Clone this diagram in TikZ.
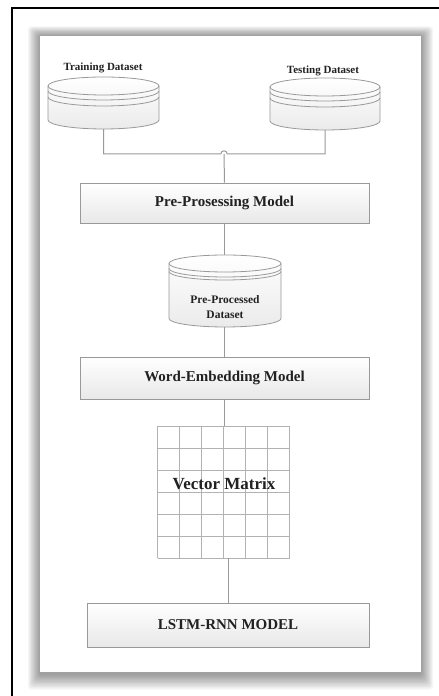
\documentclass[tikz,border=0pt]{standalone}
\usepackage{fontspec}
\setmainfont{Liberation Serif}
\usetikzlibrary{calc}
\begin{document}
\begin{tikzpicture}[x=1pt,y=1pt,
  conn/.style={draw=black!40,line width=1pt},
  procbox/.style={draw=black!40,line width=0.9pt,top color=white,bottom color=black!9,
    inner sep=0pt,text=black!87,font=\bfseries\fontsize{15}{17}\selectfont},
  cylfill/.style={draw=black!40,line width=0.8pt,top color=white,bottom color=black!8},
  cylline/.style={draw=black!40,line width=0.8pt},
  lbl/.style={text=black!87,font=\bfseries\fontsize{11}{13}\selectfont,inner sep=0pt},
  gridline/.style={draw=black!30,line width=0.8pt}
]
\useasboundingbox (0,0) rectangle (439,696);
\fill[white] (0,0) rectangle (439,696);
% outer black frame lines
\draw[black,line width=1.3pt] (12,0) -- (12,688) -- (439,688);
% panel shadow
\foreach \i in {1,...,12}{
  \fill[black,opacity=0.035,rounded corners=3pt] (40-\i,22-1.3*\i) rectangle (421+\i,660+0.8*\i);
}
\fill[white] (40,24) rectangle (421,660);

% cylinder macro: #1 name, #2 cx, #3 top Y, #4 bottom Y, #5 rx, #6 ry, #7 extra1 shift, #8 extra2 shift
\newcommand{\dbcyl}[8]{%
  \pgfmathsetmacro{\tc}{#3-#6}%
  \pgfmathsetmacro{\bc}{#4+#6}%
  \path[cylfill] (#2-#5,\tc) -- (#2-#5,\bc) arc[start angle=180,end angle=360,x radius=#5,y radius=#6]
     -- (#2+#5,\tc) arc[start angle=0,end angle=180,x radius=#5,y radius=#6] -- cycle;
  \draw[cylline] (#2-#5,\tc) arc[start angle=180,end angle=360,x radius=#5,y radius=#6];
  \draw[cylline] (#2-#5,\tc-#7) arc[start angle=180,end angle=360,x radius=#5,y radius=#6];
  \draw[cylline] (#2-#5,\tc-#8) arc[start angle=180,end angle=360,x radius=#5,y radius=#6];
  \node[inner sep=0pt,minimum width=2*#5,minimum height=#3-#4] (#1) at (#2,{(#3+#4)/2}) {};
}

% Training and testing datasets
\dbcyl{train}{103.5}{619}{567}{55.5}{9}{5}{11}
\dbcyl{test}{325}{618}{566}{55}{9}{5}{11}
\node[lbl] (trainlbl) at (103,628) {Training Dataset};
\node[lbl] (testlbl) at (323,625) {Testing Dataset};

% Pre-processing box
\node[procbox,minimum width=289,minimum height=40] (pre) at (224.5,493) {Pre-Prosessing Model};

% merge connector with hop
\coordinate (hop) at (224,542);
\draw[conn] (train.south) |- ([xshift=-3.2]hop) arc[start angle=180,end angle=0,radius=3.2] -| (test.south);
\draw[conn] (hop) -- (pre.north);

% Pre-processed dataset
\dbcyl{ppd}{225}{441}{369}{56}{8.5}{5}{8}
\node[text=black!87,font=\bfseries\fontsize{11.5}{15.5}\selectfont,align=center,inner sep=0pt] (ppdlbl) at (225,389) {Pre-Processed\\Dataset};
\draw[conn] (pre.south) -- (pre.south |- ppd.north);

% Word embedding box
\node[procbox,minimum width=289,minimum height=42] (we) at (224.5,318) {Word-Embedding Model};
\draw[conn] (ppd.south -| we.north) -- (we.north);

% Vector matrix grid
\node[inner sep=0pt,minimum width=132,minimum height=132] (vm) at (224,204) {};
\foreach \k in {0,...,6}{
  \draw[gridline] ($(vm.south west)+(22*\k,0)$) -- ($(vm.north west)+(22*\k,0)$);
  \draw[gridline] ($(vm.south west)+(0,22*\k)$) -- ($(vm.south east)+(0,22*\k)$);
}
\node[text=black!87,font=\bfseries\fontsize{17}{19}\selectfont,inner sep=0pt] (vmlbl) at (224,212) {Vector Matrix};
\draw[conn] (we.south) -- (we.south |- vm.north);

% LSTM box
\node[procbox,minimum width=282,minimum height=44] (lstm) at (228,71) {LSTM-RNN MODEL};
\draw[conn] (vm.south -| lstm.north) -- (lstm.north);
\end{tikzpicture}
\end{document}
